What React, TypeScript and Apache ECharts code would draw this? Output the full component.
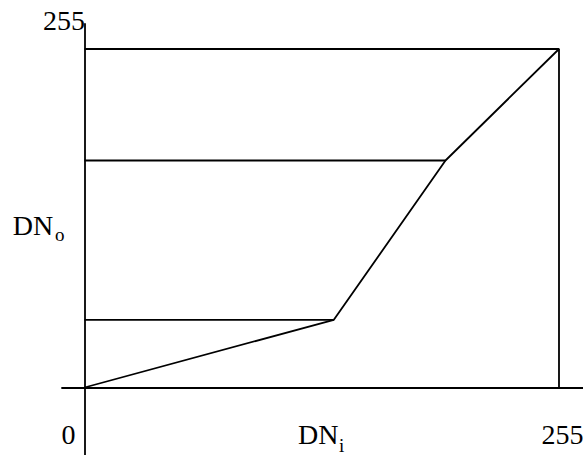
import React, { useEffect, useRef } from "react";
import * as echarts from "echarts";

// Piecewise linear contrast stretch: DN_i -> DN_o
const curveX = [0, 134, 194, 255];
const curveY = [0, 51, 171, 255];
const maxDN = 255;
const tickLabels = ["0", "255"];
const xName = "DN";
const xSub = "i";
const yName = "DN";
const ySub = "o";

export default function App() {
  const ref = useRef<HTMLDivElement>(null);
  useEffect(() => {
    if (!ref.current) return;
    const chart = echarts.init(ref.current, undefined, { renderer: "svg" });
    const black = "#000";
    const lw = 1.8;
    const font = "'Liberation Serif', 'Times New Roman', serif";
    const curve = curveX.map((x, i) => [x, curveY[i]]);
    // horizontal guides from y-axis to the inner breakpoints
    const guides = curveX.slice(1, curveX.length - 1).map((x, i) => ({
      type: "line",
      data: [
        [0, curveY[i + 1]],
        [x, curveY[i + 1]],
      ],
    }));
    const lineStyle = { color: black, width: lw };
    const base = { symbol: "none", silent: true, lineStyle };
    const series: any[] = [
      { ...base, type: "line", data: curve },
      ...guides.map((g) => ({ ...base, ...g })),
      {
        ...base,
        type: "line",
        data: [
          [0, maxDN],
          [maxDN, maxDN],
          [maxDN, 0],
        ],
      },
    ];
    const txt = (x: number, y: number, text: string, size: number) => ({
      type: "text",
      x,
      y,
      style: {
        text,
        fill: black,
        font: `${size}px ${font}`,
        align: "left",
        verticalAlign: "middle",
      },
    });
    chart.setOption({
      animation: false,
      grid: { left: 62, right: 0, top: 24, bottom: 0 },
      xAxis: {
        type: "value",
        min: -12.09,
        max: 267.9,
        axisLine: { onZero: true, lineStyle: { color: black, width: lw } },
        axisTick: { show: false },
        axisLabel: { show: false },
        splitLine: { show: false },
      },
      yAxis: {
        type: "value",
        min: -50.85,
        max: 273.83,
        axisLine: { show: true, onZero: true, lineStyle: { color: black, width: lw } },
        axisTick: { show: false },
        axisLabel: { show: false },
        splitLine: { show: false },
      },
      series,
      graphic: [
        txt(43, 20, String(maxDN), 28),
        txt(61.5, 434.5, tickLabels[0], 28),
        txt(541.5, 434, tickLabels[1], 28),
        txt(298, 434.5, xName, 28),
        txt(339, 445, xSub, 19),
        txt(12.7, 225, yName, 28),
        txt(55, 234, ySub, 19),
      ],
    });
    return () => chart.dispose();
  }, []);
  return (
    <div
      ref={ref}
      style={{ position: "fixed", left: 0, top: 0, width: 583, height: 455, background: "#fff" }}
    />
  );
}
